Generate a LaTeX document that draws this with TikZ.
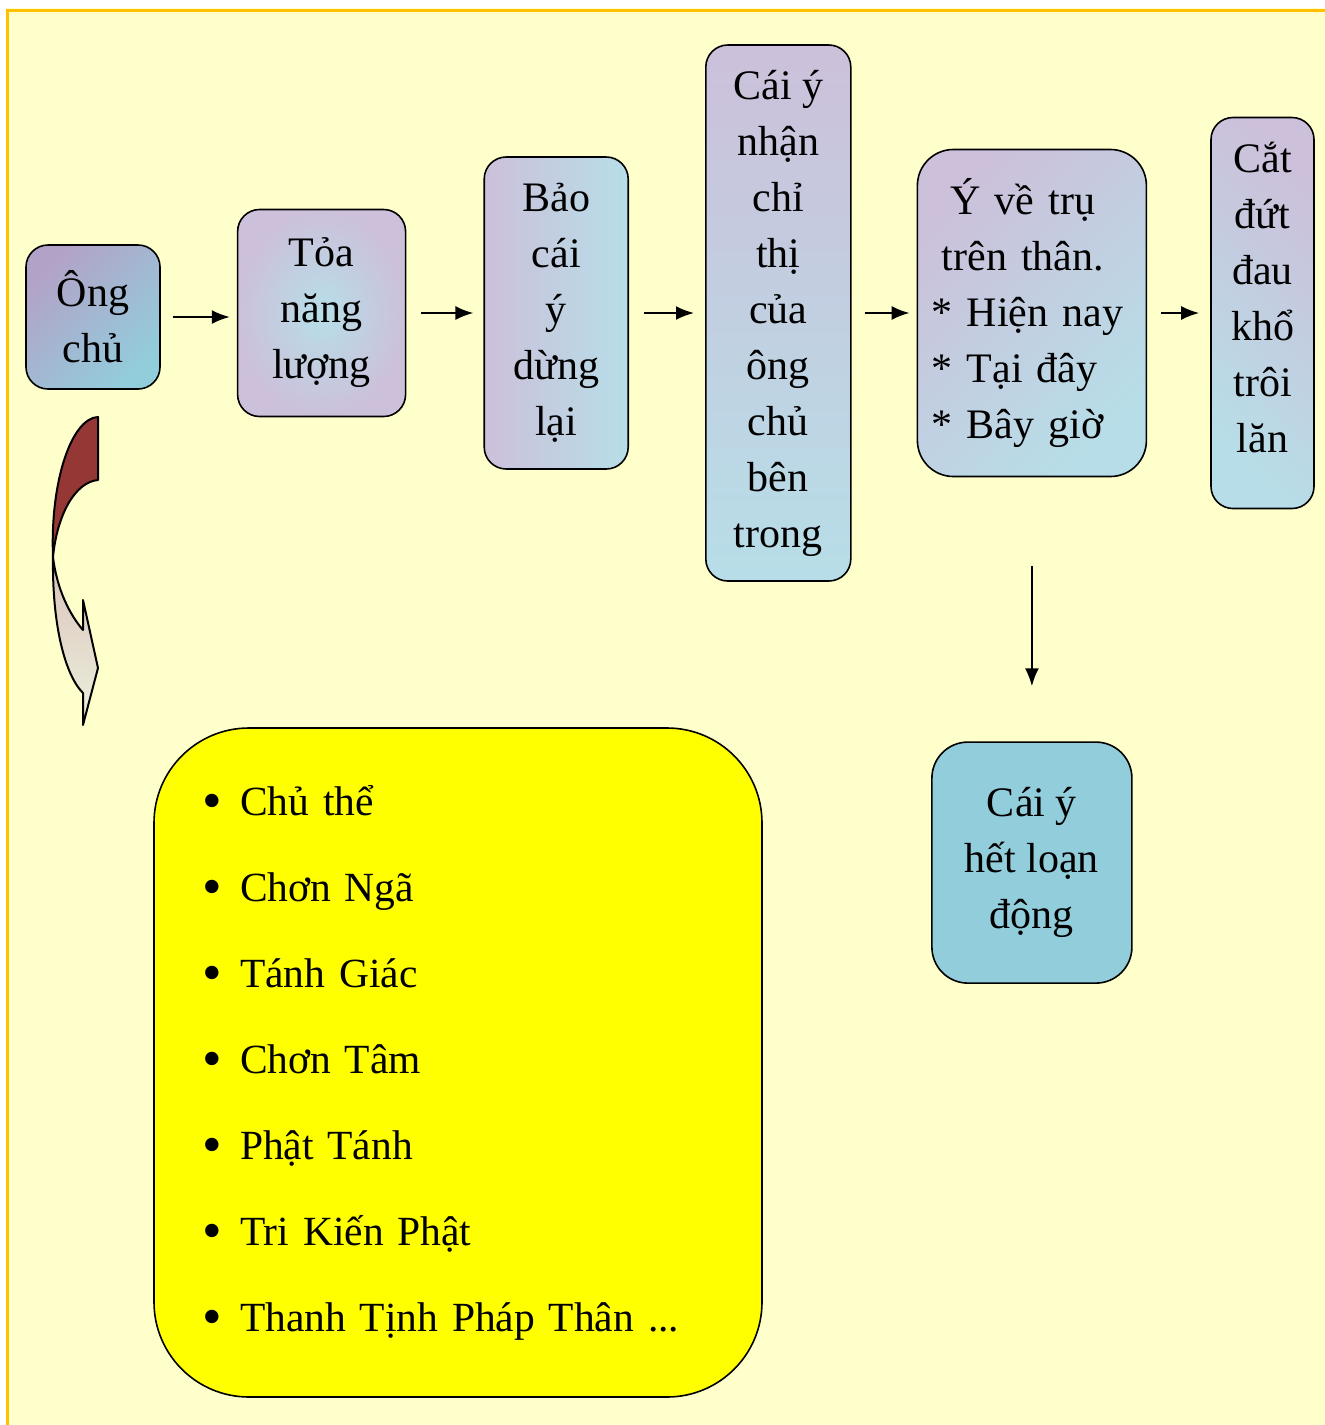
\documentclass[tikz,border=0pt]{standalone}
\usepackage{fontspec}
\setmainfont{Liberation Serif}
\usetikzlibrary{positioning,arrows.meta}
\definecolor{bgyellow}{HTML}{FFFFCC}
\definecolor{framec}{HTML}{FFC000}
\definecolor{lav}{HTML}{CCC0DA}
\definecolor{lavdark}{HTML}{B3A2C7}
\definecolor{cyanl}{HTML}{B7DEE8}
\definecolor{cyand}{HTML}{92CDDC}
\definecolor{listyellow}{HTML}{FFFF00}
\definecolor{arrred}{HTML}{953735}
\definecolor{arrpink}{HTML}{DCC2BA}
\definecolor{arrlight}{HTML}{EBF1DE}
\newcommand{\bul}{\makebox[35pt][l]{\hspace{-3pt}\raisebox{-4.5pt}{\fontsize{56}{56}\selectfont\textbullet}}}
\newcommand{\midline}[1]{\mbox{}\hfill #1\hfill\hspace*{18pt}\mbox{}}

\begin{document}
\begin{tikzpicture}
        [x=1pt, y=-1pt,
         box/.style={draw, line width=1.6pt, rounded corners=22pt, inner sep=0pt,
                     align=center, font=\fontsize{42}{56}\selectfont},
         arr/.style={line width=2pt, -{Latex[length=18pt,width=14pt]}}]

        \useasboundingbox (0,0) rectangle (1325,1425);
        \fill[bgyellow] (6,8) rectangle (1325,1425);
        \draw[framec, line width=3pt] (7,1425) -- (7,10) -- (1325,10);

        \node [box, top color=lavdark, bottom color=cyand, shading angle=45,
               minimum width=134pt, minimum height=144pt] (oc) at (93,317) {Ông\\chủ};
        \node [box, inner color=cyanl, outer color=lav,
               minimum width=168pt, minimum height=207pt] (toa) [right=76pt of oc, yshift=4pt] {Tỏa\\năng\\lượng};
        \node [box, left color=lav, right color=cyanl,
               minimum width=144pt, minimum height=312pt] (bao) [right=77pt of toa] {Bảo\\cái\\ý\\dừng\\lại};
        \node [box, top color=lav, bottom color=cyanl,
               minimum width=145pt, minimum height=536pt] (nhan) [right=76pt of bao] {Cái ý\\nhận\\chỉ\\thị\\của\\ông\\chủ\\bên\\trong};
        \node [box, rounded corners=36pt, top color=lav, bottom color=cyanl, shading angle=45,
               minimum width=229pt, minimum height=327pt, text width=200pt, align=left]
               (yve) [right=65pt of nhan] {\midline{Ý về trụ}\\\midline{trên thân.}\\{*} Hiện nay\\{*} Tại đây\\{*} Bây giờ\par\vspace*{14pt}};
        \node [box, top color=lav, bottom color=cyanl, shading angle=-45,
               minimum width=103pt, minimum height=391pt] (cat) [right=63pt of yve] {Cắt\\đứt\\đau\\khổ\\trôi\\lăn\\[-24pt]};

        \node [box, rounded corners=36pt, fill=cyand,
               minimum width=200pt, minimum height=241pt] (het) [below=264pt of yve] {Cái ý\\hết loạn\\động};

        \node [box, rounded corners=95pt, fill=listyellow, minimum width=608pt, minimum height=669pt,
               text width=506pt, align=left, font=\fontsize{41.5}{86}\selectfont] (lst) at (458,1062.5)
               {\bul Chủ thể\\\bul Chơn Ngã\\\bul Tánh Giác\\\bul Chơn Tâm\\\bul Phật Tánh\\\bul Tri Kiến Phật\\\bul Thanh Tịnh Pháp Thân ...};

        \draw[arr, shorten <=12pt, shorten >=7pt]  (oc.east)   -- (oc.east -| toa.west);
        \draw[arr, shorten <=15pt, shorten >=10pt] (toa.east)  -- (toa.east -| bao.west);
        \draw[arr, shorten <=15pt, shorten >=11pt] (bao.east)  -- (bao.east -| nhan.west);
        \draw[arr, shorten <=13pt, shorten >=7pt]  (nhan.east) -- (nhan.east -| yve.west);
        \draw[arr, shorten <=14pt, shorten >=11pt] (yve.east)  -- (yve.east -| cat.west);
        \draw[arr, shorten <=89pt, shorten >=55pt] (yve.south -| het.north) -- (het.north);

        \fill[arrred] (98,417) -- (98,480) .. controls (75,482) and (57,515) .. (53,557)
                .. controls (50,480) and (72,418) .. (98,417) -- cycle;
        \shade[top color=arrpink, bottom color=arrlight] (53,557) .. controls (57,590) and (70,615) .. (83,630)
                -- (83,600) -- (98,668) -- (83,725) -- (83,693)
                .. controls (65,675) and (52,625) .. (53,557) -- cycle;
        \draw[line width=2pt, line join=round] (98,417) -- (98,480) .. controls (75,482) and (57,515) .. (53,557)
                .. controls (57,590) and (70,615) .. (83,630) -- (83,600) -- (98,668) -- (83,725) -- (83,693)
                .. controls (65,675) and (52,625) .. (53,557)
                .. controls (50,480) and (72,418) .. (98,417) -- cycle;
\end{tikzpicture}
\end{document}
